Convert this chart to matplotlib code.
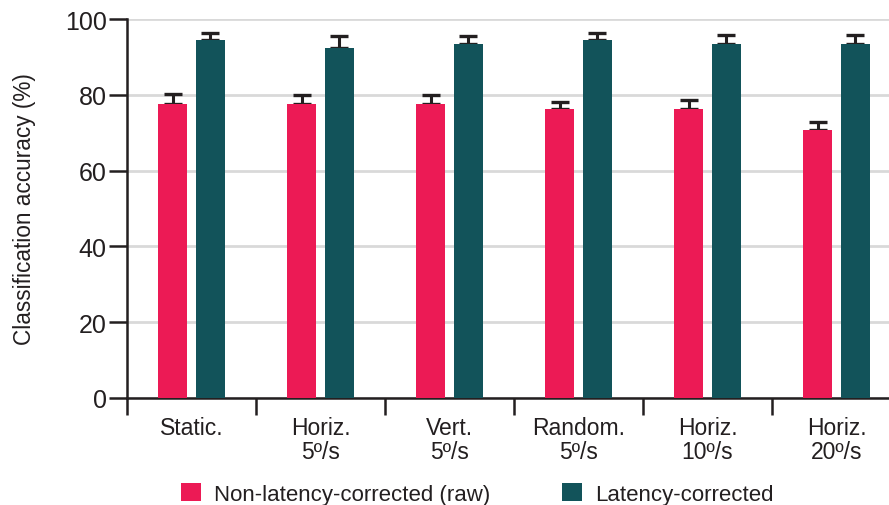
import matplotlib
matplotlib.use("Agg")
import matplotlib.pyplot as plt
import numpy as np

plt.rcParams['font.family'] = ['Liberation Sans', 'DejaVu Sans']

# Conditions (x-axis groups)
categories = ["Static.", "Horiz.\n5º/s", "Vert.\n5º/s", "Random.\n5º/s", "Horiz.\n10º/s", "Horiz.\n20º/s"]

# Mean classification accuracy (%) and upper error (%)
raw_mean = [77.6, 77.6, 77.6, 76.3, 76.3, 70.7]
raw_err = [2.6, 2.3, 2.4, 1.8, 2.2, 2.1]
corrected_mean = [94.5, 92.3, 93.4, 94.5, 93.4, 93.4]
corrected_err = [1.7, 3.3, 2.2, 1.8, 2.4, 2.4]

series_names = ["Non-latency-corrected (raw)", "Latency-corrected"]
colors = ["#ec1a55", "#12535a"]
ink = "#231f20"

fig = plt.figure(figsize=(8.89, 5.06), dpi=100)
ax = fig.add_axes([127 / 889, 1 - 399 / 506, 1 - 127 / 889, (399 - 20) / 506])

x = np.arange(len(categories))
offset = 0.147
width = 0.225

for vals, errs, col, name, sgn in [
    (raw_mean, raw_err, colors[0], series_names[0], -1),
    (corrected_mean, corrected_err, colors[1], series_names[1], 1),
]:
    pos = x + sgn * offset
    ax.errorbar(pos, vals, yerr=[np.zeros(len(vals)), errs], fmt='none',
                ecolor=ink, elinewidth=2.2, capsize=6.5, capthick=2.4, zorder=2)
    ax.bar(pos, vals, width=width, color=col, label=name, zorder=3)

ax.set_ylim(0, 100)
ax.set_xlim(-0.5, -0.5 + (889 - 127) / 129)
ax.set_yticks([0, 20, 40, 60, 80, 100])
ax.yaxis.grid(True, color="#d9d9d9", linewidth=2.0, zorder=0)
ax.set_axisbelow(True)

for s in ["top", "right"]:
    ax.spines[s].set_visible(False)
for s in ["left", "bottom"]:
    ax.spines[s].set_color(ink)
    ax.spines[s].set_linewidth(1.8)

ax.tick_params(axis='y', length=13, width=1.8, color=ink, pad=1.5,
               labelsize=18, labelcolor=ink)

# Category labels centred under groups, separator ticks between groups
ax.set_xticks(x)
ax.set_xticklabels(categories, linespacing=1.05)
ax.tick_params(axis='x', which='major', length=0, pad=13, labelsize=16.5, labelcolor=ink)
ax.set_xticks(np.arange(len(categories)) - 0.5, minor=True)
ax.tick_params(axis='x', which='minor', length=12.5, width=1.8, color=ink)

ax.set_ylabel("Classification accuracy (%)", fontsize=16.3, color=ink, labelpad=21)

fig.legend(loc='upper left', bbox_to_anchor=(181 / 889, 1 - 484 / 506), ncol=2,
           frameon=False, fontsize=16, handlelength=0.9, handleheight=0.9,
           handletextpad=0.6, columnspacing=3.2, borderpad=0, borderaxespad=0,
           labelcolor=ink)

fig.savefig("out.png", dpi=100)
